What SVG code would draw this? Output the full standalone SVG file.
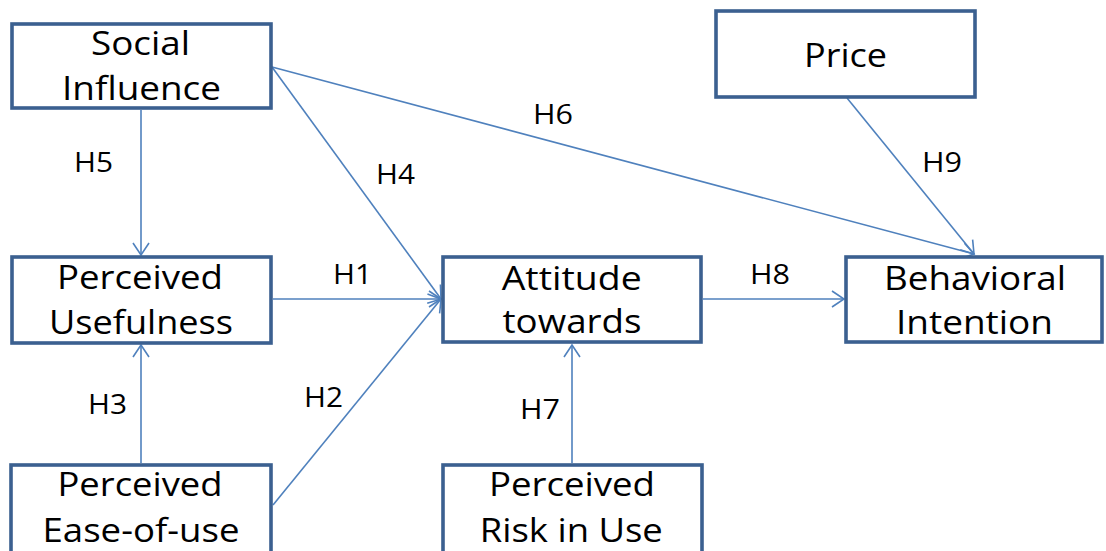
<svg xmlns="http://www.w3.org/2000/svg" width="1106" height="551" viewBox="0 0 1106 551">
<style>
.box{fill:#fff;stroke:#3b6090;stroke-width:3.6}
.t{font-family:"Open Sans","Liberation Sans",sans-serif;font-size:32px;fill:#000;text-anchor:middle}
.h{font-family:"Open Sans","Liberation Sans",sans-serif;font-size:27px;fill:#000}
.c{stroke:#4f81bd;stroke-width:1.6;fill:none}
</style>
<defs>
<marker id="arr" markerUnits="userSpaceOnUse" markerWidth="30" markerHeight="30" refX="0" refY="0" viewBox="-15 -15 30 30" orient="auto" overflow="visible">
<path d="M-12,-8 L0,0 L-12,8" fill="none" stroke="#4f81bd" stroke-width="1.6"/>
</marker>
</defs>
<rect width="1106" height="551" fill="#fff"/>
<g id="connectors">
<line class="c" x1="141" y1="110" x2="141" y2="255" marker-end="url(#arr)"/>
<line class="c" x1="141" y1="463" x2="141" y2="345" marker-end="url(#arr)"/>
<line class="c" x1="273" y1="299" x2="441" y2="299" marker-end="url(#arr)"/>
<line class="c" x1="272" y1="67" x2="441" y2="299" marker-end="url(#arr)"/>
<line class="c" x1="272" y1="67" x2="974" y2="254" marker-end="url(#arr)"/>
<line class="c" x1="847" y1="98" x2="974" y2="254" marker-end="url(#arr)"/>
<line class="c" x1="273" y1="505" x2="441" y2="299" marker-end="url(#arr)"/>
<line class="c" x1="703" y1="299" x2="844" y2="299" marker-end="url(#arr)"/>
<line class="c" x1="572" y1="463" x2="572" y2="345" marker-end="url(#arr)"/>
<text class="h" x="333" y="284" textLength="39" lengthAdjust="spacingAndGlyphs">H1</text>
<text class="h" x="304" y="407" textLength="39" lengthAdjust="spacingAndGlyphs">H2</text>
<text class="h" x="88" y="414" textLength="39" lengthAdjust="spacingAndGlyphs">H3</text>
<text class="h" x="376" y="184" textLength="39" lengthAdjust="spacingAndGlyphs">H4</text>
<text class="h" x="74" y="172" textLength="39" lengthAdjust="spacingAndGlyphs">H5</text>
<text class="h" x="533" y="124" textLength="40" lengthAdjust="spacingAndGlyphs">H6</text>
<text class="h" x="520" y="419" textLength="40" lengthAdjust="spacingAndGlyphs">H7</text>
<text class="h" x="750" y="284" textLength="40" lengthAdjust="spacingAndGlyphs">H8</text>
<text class="h" x="922" y="172" textLength="40" lengthAdjust="spacingAndGlyphs">H9</text>
</g>
<g id="social">
<rect class="box" x="12" y="24" width="259" height="84"/>
<text class="t" x="140.5" y="55" textLength="99" lengthAdjust="spacingAndGlyphs">Social</text>
<text class="t" x="141.5" y="100" textLength="159" lengthAdjust="spacingAndGlyphs">Influence</text>
</g>
<g id="price">
<rect class="box" x="716" y="11" width="259" height="86"/>
<text class="t" x="845.5" y="67" textLength="83" lengthAdjust="spacingAndGlyphs">Price</text>
</g>
<g id="usefulness">
<rect class="box" x="12" y="257" width="259" height="86"/>
<text class="t" x="140" y="289" textLength="166" lengthAdjust="spacingAndGlyphs">Perceived</text>
<text class="t" x="141" y="334" textLength="184" lengthAdjust="spacingAndGlyphs">Usefulness</text>
</g>
<g id="attitude">
<rect class="box" x="443" y="257" width="258" height="85"/>
<text class="t" x="571.7" y="290" textLength="140" lengthAdjust="spacingAndGlyphs">Attitude</text>
<text class="t" x="572" y="333" textLength="139" lengthAdjust="spacingAndGlyphs">towards</text>
</g>
<g id="behavioral">
<rect class="box" x="846" y="257" width="256" height="85"/>
<text class="t" x="975" y="290" textLength="182" lengthAdjust="spacingAndGlyphs">Behavioral</text>
<text class="t" x="974.5" y="334" textLength="157" lengthAdjust="spacingAndGlyphs">Intention</text>
</g>
<g id="ease">
<rect class="box" x="11" y="465" width="260" height="100"/>
<text class="t" x="140" y="496" textLength="165" lengthAdjust="spacingAndGlyphs">Perceived</text>
<text class="t" x="141" y="542" textLength="197" lengthAdjust="spacingAndGlyphs">Ease-of-use</text>
</g>
<g id="risk">
<rect class="box" x="443" y="465" width="259" height="100"/>
<text class="t" x="572" y="496" textLength="166" lengthAdjust="spacingAndGlyphs">Perceived</text>
<text class="t" x="571.3" y="542" textLength="183" lengthAdjust="spacingAndGlyphs">Risk in Use</text>
</g>
</svg>
